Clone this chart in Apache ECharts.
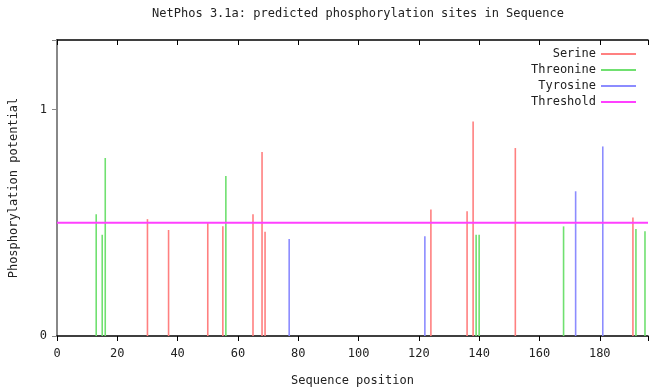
<!DOCTYPE html>
<html>
<head>
<meta charset="utf-8">
<script src="https://cdn.jsdelivr.net/npm/echarts@6/dist/echarts.min.js"></script>
<style>
html, body { margin: 0; padding: 0; background: #fff; }
#chart { width: 651px; height: 392px; }
</style>
</head>
<body>
<div id="chart"></div>
<script>
// sequence positions and scores
const serinePos = [30, 37, 50, 55, 65, 68, 69, 124, 136, 138, 152, 191];
const serineVal = [0.516, 0.468, 0.499, 0.485, 0.538, 0.812, 0.460, 0.559, 0.551, 0.947, 0.830, 0.523];
const threoninePos = [13, 15, 16, 56, 139, 140, 168, 192, 195];
const threonineVal = [0.538, 0.447, 0.786, 0.707, 0.447, 0.447, 0.484, 0.472, 0.462];
const tyrosinePos = [77, 122, 172, 181];
const tyrosineVal = [0.428, 0.441, 0.639, 0.837];
const threshold = 0.5;
const seqLength = 196;
const yTop = 1.307;
const xTicks = [0, 20, 40, 60, 80, 100, 120, 140, 160, 180];
const yTicks = [0, 1];

const font = 'DejaVu Sans Mono';
const pairs = (xs, ys) => xs.map((x, i) => [x, ys[i]]);

const barSeries = (name, xs, ys, color) => ({
	name: name,
	type: 'bar',
	data: pairs(xs, ys),
	barWidth: 1.6,
	barGap: '-100%',
	itemStyle: { color: color },
	silent: true
});

const chart = echarts.init(document.getElementById('chart'));
chart.setOption({
	animation: false,
	title: {
		text: 'NetPhos 3.1a: predicted phosphorylation sites in Sequence',
		left: 353,
		textAlign: 'center',
		top: 3,
		textStyle: { fontFamily: font, fontSize: 12, fontWeight: 'normal', color: '#222' }
	},
	legend: {
		orient: 'vertical',
		right: 10,
		top: 43,
		align: 'right',
		itemGap: 4,
		itemWidth: 35,
		itemHeight: 2,
		icon: 'rect',
		textStyle: { fontFamily: font, fontSize: 12, color: '#222' },
		data: ['Serine', 'Threonine', 'Tyrosine', 'Threshold']
	},
	grid: { left: 52, top: 40, right: -2, bottom: 55 },
	xAxis: [{
		type: 'value',
		min: 0,
		max: seqLength,
		interval: 20,
		name: 'Sequence position',
		nameLocation: 'middle',
		nameGap: 39,
		nameTextStyle: { fontFamily: font, fontSize: 12, color: '#222' },
		axisLine: { lineStyle: { color: '#000', width: 1.5 } },
		axisTick: { length: 5, lineStyle: { color: '#000' } },
		axisLabel: {
			margin: 12,
			fontFamily: font, fontSize: 12, color: '#222',
			formatter: v => xTicks.includes(v) ? String(v) : ''
		},
		splitLine: { show: false }
	}, {
		type: 'value',
		position: 'top',
		min: 0,
		max: seqLength,
		interval: 20,
		axisLine: { lineStyle: { color: '#000', width: 1.5 } },
		axisTick: { inside: true, length: 5, lineStyle: { color: '#000' } },
		axisLabel: { show: false },
		splitLine: { show: false }
	}],
	yAxis: {
		type: 'value',
		min: 0,
		max: yTop,
		interval: 1,
		name: 'Phosphorylation potential',
		nameLocation: 'middle',
		nameGap: 37,
		nameTextStyle: { fontFamily: font, fontSize: 12, color: '#222' },
		axisLine: { show: true, lineStyle: { color: '#888', width: 2 } },
		axisTick: { length: 5, lineStyle: { color: '#888' } },
		axisLabel: {
			margin: 10,
			fontFamily: font, fontSize: 12, color: '#222',
			formatter: v => yTicks.includes(v) ? String(v) : ''
		},
		splitLine: { show: false }
	},
	series: [
		barSeries('Serine', serinePos, serineVal, '#ff8080'),
		barSeries('Threonine', threoninePos, threonineVal, '#70e070'),
		barSeries('Tyrosine', tyrosinePos, tyrosineVal, '#8c8cff'),
		{
			name: 'Threshold',
			type: 'line',
			data: [[0, threshold], [seqLength, threshold]],
			symbol: 'none',
			silent: true,
			lineStyle: { color: '#ff40ff', width: 2 },
			itemStyle: { color: '#ff40ff' }
		}
	]
});
</script>
</body>
</html>
